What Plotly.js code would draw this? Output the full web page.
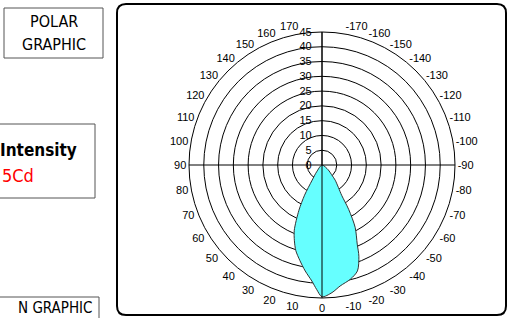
<!DOCTYPE html>
<html>
<head>
<meta charset="utf-8">
<script src="https://cdn.plot.ly/plotly-3.0.1.min.js"></script>
<style>html,body{margin:0;padding:0;background:#fff;}#chart{width:508px;height:318px;}</style>
</head>
<body>
<div id="chart"></div>
<script>
// Luminous intensity curve (theta in degrees, 0 = downward; r in chart units)
const curveTheta = [-60, -52, -45, -41, -36, -33, -31, -28, -24, -22, -18.5, -14, -8.5, -4.5, 0, 2.5, 5, 9, 13, 17, 20, 23, 27, 30, 33, 38, 45];
const curveR     = [0, 2.7, 4.5, 6.8, 9.5, 12.2, 17.5, 23.9, 29.3, 33.3, 37.8, 39.8, 41.4, 43.3, 44.6, 42.1, 39.4, 36.3, 33.2, 30.3, 27.3, 24.0, 17.2, 11.8, 6.1, 3.0, 0];

// Axis ticks
const radialTicks = [0, 5, 10, 15, 20, 25, 30, 35, 40, 45];
const angleTickVals = [0,10,20,30,40,50,60,70,80,90,100,110,120,130,140,150,160,170,190,200,210,220,230,240,250,260,270,280,290,300,310,320,330,340,350];
const angleTickText = ['0','10','20','30','40','50','60','70','80','90','100','110','120','130','140','150','160','170','-170','-160','-150','-140','-130','-120','-110','-100','-90','-80','-70','-60','-50','-40','-30','-20','-10'];
const spokeAngles = [0, 90, 180, 270];
const rMax = 45;

const W = 508, H = 318;
const px = x => x / W;
const py = y => 1 - y / H;

// spokes (cross lines)
const spR = [], spT = [];
spokeAngles.forEach(a => { spR.push(0, rMax, null); spT.push(a, a, null); });

const traces = [
  {type:'scatterpolar', r: curveR, theta: curveTheta, mode:'lines', fill:'toself',
   fillcolor:'#66FFFF', line:{color:'#333333', width:1, shape:'spline', smoothing:0.8},
   hoverinfo:'skip', showlegend:false},
  {type:'scatterpolar', r: spR, theta: spT, mode:'lines',
   line:{color:'#000000', width:1}, hoverinfo:'skip', showlegend:false, connectgaps:false}
];

// rounded rectangle path in paper coords
function roundRect(x0, y0, x1, y1, rad) {
  const rx = rad / W, ry = rad / H;
  const X0 = px(x0), X1 = px(x1), Y0 = py(y0), Y1 = py(y1);
  return `M ${X0+rx} ${Y0} L ${X1-rx} ${Y0} Q ${X1} ${Y0} ${X1} ${Y0-ry} L ${X1} ${Y1+ry} Q ${X1} ${Y1} ${X1-rx} ${Y1} L ${X0+rx} ${Y1} Q ${X0} ${Y1} ${X0} ${Y1+ry} L ${X0} ${Y0-ry} Q ${X0} ${Y0} ${X0+rx} ${Y0} Z`;
}

const cx = 322, cy = 165, R = 133;
const layout = {
  width: W, height: H,
  margin: {l:0, r:0, t:0, b:0},
  paper_bgcolor:'#ffffff',
  showlegend:false,
  font:{family:'Liberation Sans, Arial, sans-serif', size:11, color:'#000'},
  polar: {
    domain: {x:[px(cx-R), px(cx+R)], y:[py(cy+R), py(cy-R)]},
    bgcolor:'rgba(0,0,0,0)',
    radialaxis: {
      range:[0, rMax], tickmode:'array', tickvals: radialTicks, ticktext: radialTicks.map(String),
      showgrid:true, gridcolor:'#000', gridwidth:1,
      showline:true, linecolor:'#000', linewidth:1,
      angle:90, side:'counterclockwise', tickangle:90,
      ticks:'outside', ticklen:6, tickcolor:'rgba(0,0,0,0)',
      tickfont:{size:11, color:'#000', family:'Liberation Sans, Arial, sans-serif'},
      layer:'below traces'
    },
    angularaxis: {
      rotation:270, direction:'clockwise', tickmode:'array',
      tickvals: angleTickVals, ticktext: angleTickText,
      showgrid:false, showline:true, linecolor:'#000', linewidth:1,
      ticks:'', tickfont:{size:11, color:'#000', family:'Liberation Sans, Arial, sans-serif'},
      layer:'below traces'
    }
  },
  shapes: [
    {type:'path', xref:'paper', yref:'paper', path: roundRect(117, 4, 506, 315, 9), line:{color:'#000', width:2}},
    {type:'rect', xref:'paper', yref:'paper', x0:px(4), x1:px(103), y0:py(58), y1:py(8), line:{color:'#555', width:1}},
    {type:'rect', xref:'paper', yref:'paper', x0:px(-20), x1:px(95), y0:py(198), y1:py(124), line:{color:'#555', width:1}},
    {type:'rect', xref:'paper', yref:'paper', x0:px(-20), x1:px(99), y0:py(340), y1:py(297), line:{color:'#555', width:1}}
  ],
  annotations: [
    {xref:'paper', yref:'paper', x:px(53.5), y:py(22), text:'POLAR', showarrow:false, xanchor:'center', yanchor:'middle',
     font:{family:'DejaVu Sans Condensed, DejaVu Sans, sans-serif', size:16, color:'#000'}},
    {xref:'paper', yref:'paper', x:px(53.5), y:py(45), text:'GRAPHIC', showarrow:false, xanchor:'center', yanchor:'middle',
     font:{family:'DejaVu Sans Condensed, DejaVu Sans, sans-serif', size:16, color:'#000'}},
    {xref:'paper', yref:'paper', x:px(79), y:py(150), text:'<b>Intensity</b>', showarrow:false, xanchor:'right', yanchor:'middle',
     font:{family:'DejaVu Sans Condensed, DejaVu Sans, sans-serif', size:17, color:'#000'}},
    {xref:'paper', yref:'paper', x:px(36), y:py(175), text:'5Cd', showarrow:false, xanchor:'right', yanchor:'middle',
     font:{family:'DejaVu Sans Condensed, DejaVu Sans, sans-serif', size:18, color:'#FF0000'}},
    {xref:'paper', yref:'paper', x:px(95), y:py(308), text:'N GRAPHIC', showarrow:false, xanchor:'right', yanchor:'middle',
     font:{family:'DejaVu Sans Condensed, DejaVu Sans, sans-serif', size:15, color:'#000'}}
  ]
};

Plotly.newPlot('chart', traces, layout, {staticPlot:true, displayModeBar:false});
</script>
</body>
</html>
